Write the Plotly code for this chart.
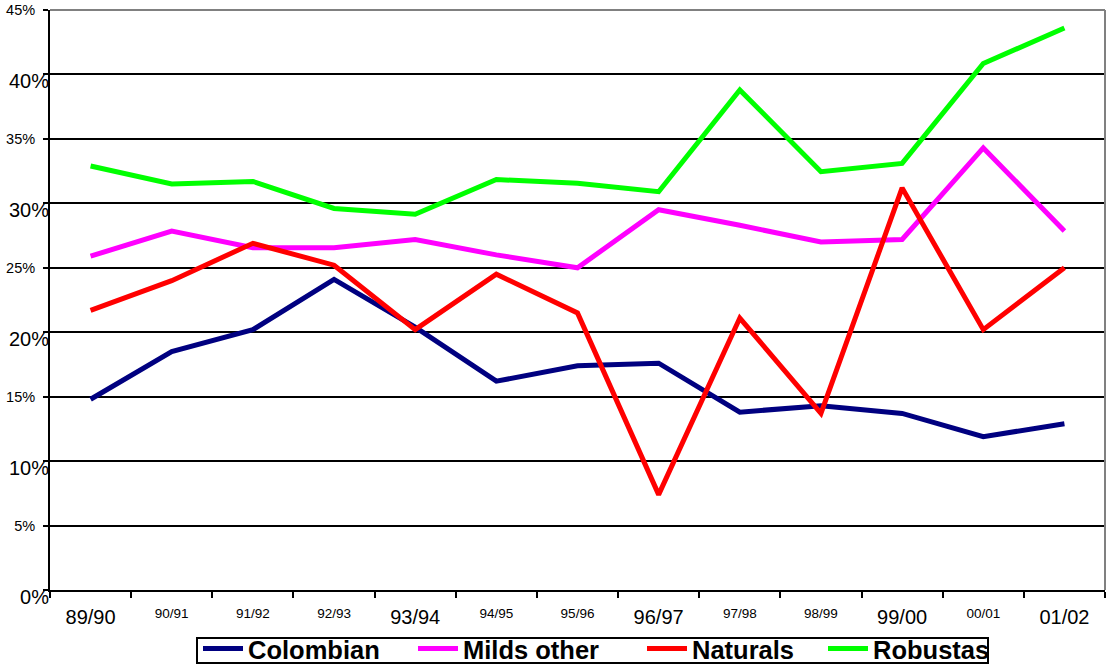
import plotly.graph_objects as go

# Crop years on the x axis
categories = ["89/90", "90/91", "91/92", "92/93", "93/94", "94/95", "95/96",
              "96/97", "97/98", "98/99", "99/00", "00/01", "01/02"]
# Years whose labels are set in the larger type
big_x_labels = ["89/90", "93/94", "96/97", "99/00", "01/02"]

# Share of each coffee group, in percent
colombian = [14.8, 18.5, 20.2, 24.1, 20.4, 16.2, 17.4, 17.6, 13.8, 14.3, 13.7, 11.9, 12.9]
milds_other = [25.9, 27.85, 26.55, 26.55, 27.2, 26.0, 25.0, 29.5, 28.3, 27.0, 27.2, 34.3, 27.85]
naturals = [21.7, 24.0, 26.9, 25.2, 20.2, 24.5, 21.5, 7.4, 21.1, 13.7, 31.2, 20.2, 25.0]
robustas = [32.9, 31.5, 31.7, 29.6, 29.15, 31.85, 31.55, 30.9, 38.8, 32.45, 33.1, 40.85, 43.6]

# Y ticks: small labels on odd multiples of 5, large labels on multiples of 10
y_ticks = [0, 5, 10, 15, 20, 25, 30, 35, 40, 45]
y_big = [0, 10, 20, 30, 40]

# name, values, colour, legend id, axes (last series sits on the overlay axes)
series = [
    ("Colombian", colombian, "#000080", "legend", "x", "y"),
    ("Milds other", milds_other, "#FF00FF", "legend2", "x", "y"),
    ("Naturals", naturals, "#FF0000", "legend3", "x", "y"),
    ("Robustas", robustas, "#00FF00", "legend4", "x2", "y2"),
]

FONT = "Arial, 'Liberation Sans', sans-serif"

fig = go.Figure()
for name, vals, color, leg, xa, ya in series:
    fig.add_trace(go.Scatter(
        x=categories, y=vals, name=name, mode="lines",
        line=dict(color=color, width=5), legend=leg, xaxis=xa, yaxis=ya,
    ))

W, H = 1107, 664
L, R, T, B = 50, 2, 10, 74
pw, ph = W - L - R, H - T - B


def px_x(p):
    return (p - L) / pw


def px_y(p):
    return (H - B - p) / ph


leg_common = dict(
    orientation="h", xanchor="left", yanchor="middle",
    bgcolor="rgba(0,0,0,0)", borderwidth=0, itemwidth=40,
    font=dict(family=FONT, size=25.5, color="black", weight="bold"),
)
leg_starts = [203, 418, 647, 828]
legend_defs = {}
for key, xs in zip(["legend", "legend2", "legend3", "legend4"], leg_starts):
    legend_defs[key] = dict(leg_common, x=px_x(xs - 5), y=px_y(649))

small_x_text = [c if c not in big_x_labels else "" for c in categories]
cat_range = [-0.5, len(categories) - 0.5]

fig.update_layout(
    width=W, height=H,
    margin=dict(l=L, r=R, t=T, b=B, pad=0, autoexpand=False),
    paper_bgcolor="white", plot_bgcolor="white",
    font=dict(family=FONT, color="black"),
    showlegend=True,
    **legend_defs,
    xaxis=dict(
        type="category", range=cat_range,
        tickmode="array", tickvals=categories, ticktext=small_x_text,
        tickson="boundaries", ticks="outside", ticklen=6, tickwidth=1.5,
        tickcolor="black", tickfont=dict(size=13.5, color="black"),
        ticklabelstandoff=10,
        showline=True, linecolor="black", linewidth=2,
        showgrid=False, zeroline=False,
    ),
    xaxis2=dict(
        type="category", overlaying="x", anchor="y2", side="bottom",
        range=cat_range,
        tickmode="array", tickvals=big_x_labels, ticktext=big_x_labels,
        ticks="", tickfont=dict(size=20, color="black"),
        ticklabelstandoff=13,
        showline=False, showgrid=False, zeroline=False,
    ),
    yaxis=dict(
        range=[0, 45], tickmode="array", tickvals=y_ticks,
        ticktext=[f"{v}%" if v not in y_big else "" for v in y_ticks],
        ticks="outside", ticklen=5, tickwidth=1.5, tickcolor="black",
        tickfont=dict(size=14.5, color="black"),
        ticklabelstandoff=5,
        showgrid=True, gridcolor="black", gridwidth=1.5,
        showline=True, linecolor="black", linewidth=2,
        zeroline=False,
    ),
    yaxis2=dict(
        overlaying="y", anchor="x2", side="left",
        range=[0, 45], tickmode="array", tickvals=y_big,
        ticktext=[f"{v}%" for v in y_big],
        ticks="", tickfont=dict(size=20, color="black"),
        ticklabelshift=7,
        showgrid=False, showline=False, zeroline=False,
    ),
    shapes=[
        # grey frame on the top and right of the plot area
        dict(type="line", xref="paper", yref="paper", x0=0, x1=1, y0=1, y1=1,
             line=dict(color="#808080", width=2), layer="above"),
        dict(type="line", xref="paper", yref="paper", x0=1, x1=1, y0=0, y1=1,
             line=dict(color="#808080", width=2), layer="above"),
        # legend frame
        dict(type="rect", xref="paper", yref="paper",
             x0=px_x(197), x1=px_x(988), y0=px_y(638), y1=px_y(663),
             line=dict(color="black", width=2), fillcolor="rgba(0,0,0,0)"),
    ],
)

fig.write_html("out.html")
